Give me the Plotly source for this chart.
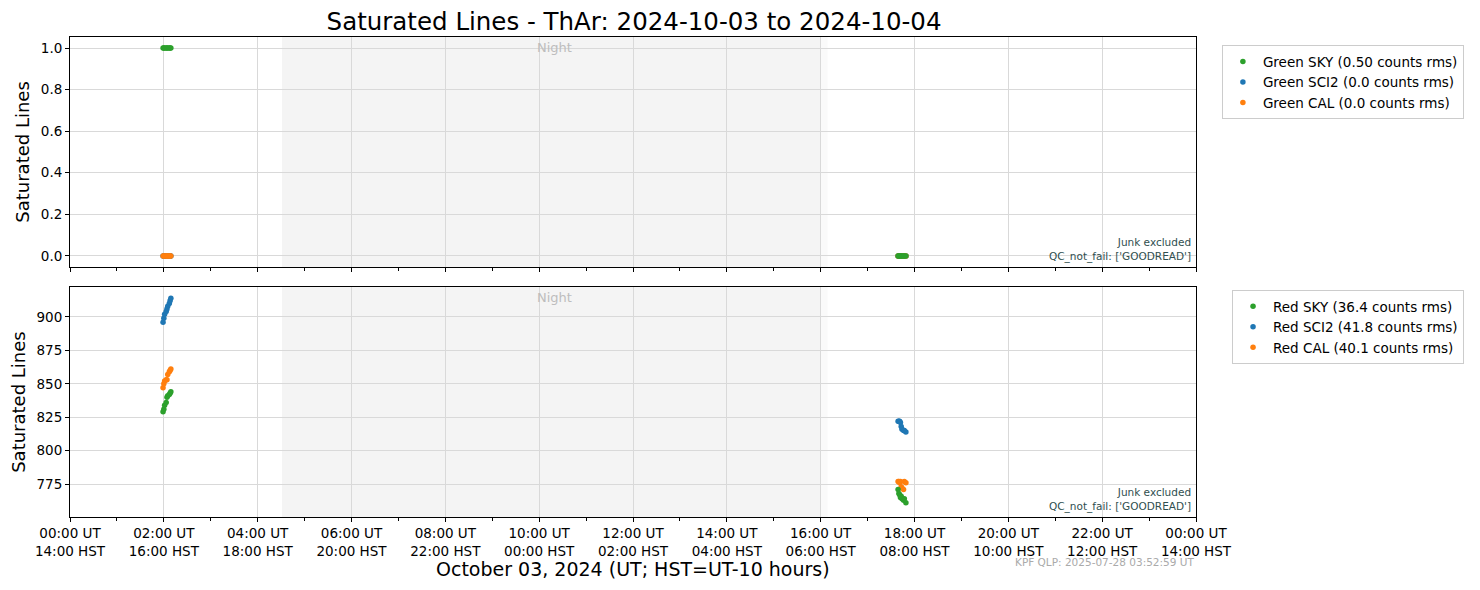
import plotly.graph_objects as go
from plotly.subplots import make_subplots

DAY = "2024-10-03"

# observation times (UT)
times_am = ["01:59", "02:00", "02:01", "02:03", "02:04", "02:05", "02:07", "02:08", "02:09"]
times_pm = ["17:39", "17:40", "17:41", "17:42", "17:43", "17:44", "17:46", "17:47", "17:49"]

# green chip saturated lines
green_sky = [1, 1, 1, 1, 1, 1, 1, 1, 1, 0, 0, 0, 0, 0, 0, 0, 0, 0]
green_sci2 = [0] * 18
green_cal = [0] * 18

# red chip saturated lines
red_sky = [829, 831, 834, 836, 840, 841, 842, 843, 844,
           771, 768, 767, 765, 766, 764, 763, 764, 761]
red_sci2 = [896, 899, 902, 904, 906, 908, 910, 912, 914,
            822, 822, 822, 821, 818, 816, 815, 815, 814]
red_cal = [847, 850, 852, 853, 853, 857, 859, 860, 861,
           777, 777, 776, 777, 773, 772, 771, 777, 776]

green_labels = ["Green SKY (0.50 counts rms)", "Green SCI2 (0.0 counts rms)", "Green CAL (0.0 counts rms)"]
red_labels = ["Red SKY (36.4 counts rms)", "Red SCI2 (41.8 counts rms)", "Red CAL (40.1 counts rms)"]

night_start = "04:31"
night_end = "16:09"
dark_end = "16:00"

tick_ut = ["00:00", "02:00", "04:00", "06:00", "08:00", "10:00", "12:00",
           "14:00", "16:00", "18:00", "20:00", "22:00"]
tick_hst = ["14:00", "16:00", "18:00", "20:00", "22:00", "00:00", "02:00",
            "04:00", "06:00", "08:00", "10:00", "12:00", "14:00"]

x = [DAY + " " + t for t in times_am + times_pm]
tickvals = [DAY + " " + t for t in tick_ut] + ["2024-10-04 00:00"]
ticktext = [u + " UT<br>" + h + " HST" for u, h in zip(tick_ut + ["00:00"], tick_hst)]

colors = {"SKY": "#2ca02c", "SCI2": "#1f77b4", "CAL": "#ff7f0e"}

fig = make_subplots(rows=2, cols=1, shared_xaxes=True, vertical_spacing=0.042)

# draw SKY last so it sits on top, but keep legend order SKY, SCI2, CAL
for row, series, labels, leg in [
    (1, [green_sky, green_sci2, green_cal], green_labels, "legend"),
    (2, [red_sky, red_sci2, red_cal], red_labels, "legend2"),
]:
    order = [(1, "SCI2"), (2, "CAL"), (0, "SKY")]
    for idx, key in order:
        fig.add_trace(go.Scatter(
            x=x, y=series[idx], mode="markers", name=labels[idx],
            marker=dict(color=colors[key], size=5.5),
            legend=leg, legendrank=idx + 1,
        ), row=row, col=1)

for row in [1, 2]:
    xr = "x" if row == 1 else "x2"
    yd = ("y" if row == 1 else "y2") + " domain"
    fig.add_shape(type="rect", xref=xr, yref=yd,
                  x0=DAY + " " + night_start, x1=DAY + " " + night_end, y0=0, y1=1,
                  fillcolor="rgba(0,0,0,0.018)", line_width=0, layer="below")
    fig.add_shape(type="rect", xref=xr, yref=yd,
                  x0=DAY + " " + night_start, x1=DAY + " " + dark_end, y0=0, y1=1,
                  fillcolor="rgba(0,0,0,0.022)", line_width=0, layer="below")
    fig.add_annotation(xref=xr, yref=yd,
                       x=DAY + " 10:20", y=0.995, yanchor="top", showarrow=False,
                       text="Night", font=dict(size=13, color="#bdbdbd"))
    fig.add_annotation(xref=xr + " domain", yref=yd,
                       x=0.997, y=0.01, xanchor="right", yanchor="bottom", align="right",
                       showarrow=False, text="Junk excluded<br>QC_not_fail: ['GOODREAD']",
                       font=dict(size=10.5, color="#2f4f4f"))

axis_style = dict(showline=True, linecolor="black", linewidth=1, mirror=True,
                  gridcolor="#d9d9d9", gridwidth=1, zeroline=False, automargin=False,
                  ticks="outside", ticklen=4, tickcolor="black",
                  tickfont=dict(family="DejaVu Sans", size=13.5, color="black"))

fig.update_xaxes(**axis_style, range=[DAY + " 00:00", "2024-10-04 00:00"],
                 tickvals=tickvals, ticktext=ticktext,
                 minor=dict(dtick=3600000, ticks="outside", ticklen=3, tickcolor="black",
                            showgrid=False))
fig.update_xaxes(showticklabels=False, row=1, col=1)
fig.update_yaxes(**axis_style)
fig.update_yaxes(range=[-0.053, 1.053], tickvals=[0, 0.2, 0.4, 0.6, 0.8, 1.0],
                 ticktext=["0.0", "0.2", "0.4", "0.6", "0.8", "1.0"], row=1, col=1)
fig.update_yaxes(range=[750.4, 922.3], tickvals=[775, 800, 825, 850, 875, 900], row=2, col=1)
fig.update_yaxes(title=dict(text="Saturated Lines", font=dict(size=18, color="black"), standoff=6))

fig.add_annotation(xref="paper", yref="paper", x=0.5, y=-0.108, yanchor="middle",
                   showarrow=False, text="October 03, 2024 (UT; HST=UT-10 hours)",
                   font=dict(size=19, color="black"))
fig.add_annotation(xref="paper", yref="paper", x=1.0, y=-0.094, xanchor="right",
                   yanchor="middle", showarrow=False, text="KPF QLP: 2025-07-28 03:52:59 UT",
                   font=dict(size=10.5, color="#aaaaaa"))

legend_style = dict(bgcolor="white", bordercolor="#cccccc", borderwidth=1,
                    font=dict(family="DejaVu Sans", size=13.5, color="black"),
                    xanchor="left", yanchor="top")
fig.update_layout(
    width=1480, height=590,
    margin=dict(l=62, r=292, t=29, b=81),
    paper_bgcolor="white", plot_bgcolor="white",
    font=dict(family="DejaVu Sans", color="black"),
    title=dict(text="Saturated Lines - ThAr: 2024-10-03 to 2024-10-04", x=0.423, y=0.978,
               xanchor="center", yanchor="middle", automargin=False,
               font=dict(size=24.5, color="black")),
    legend=dict(**legend_style, x=1.023, y=0.983),
    legend2=dict(**legend_style, x=1.032, y=0.473),
)

fig.write_html("out.html")
